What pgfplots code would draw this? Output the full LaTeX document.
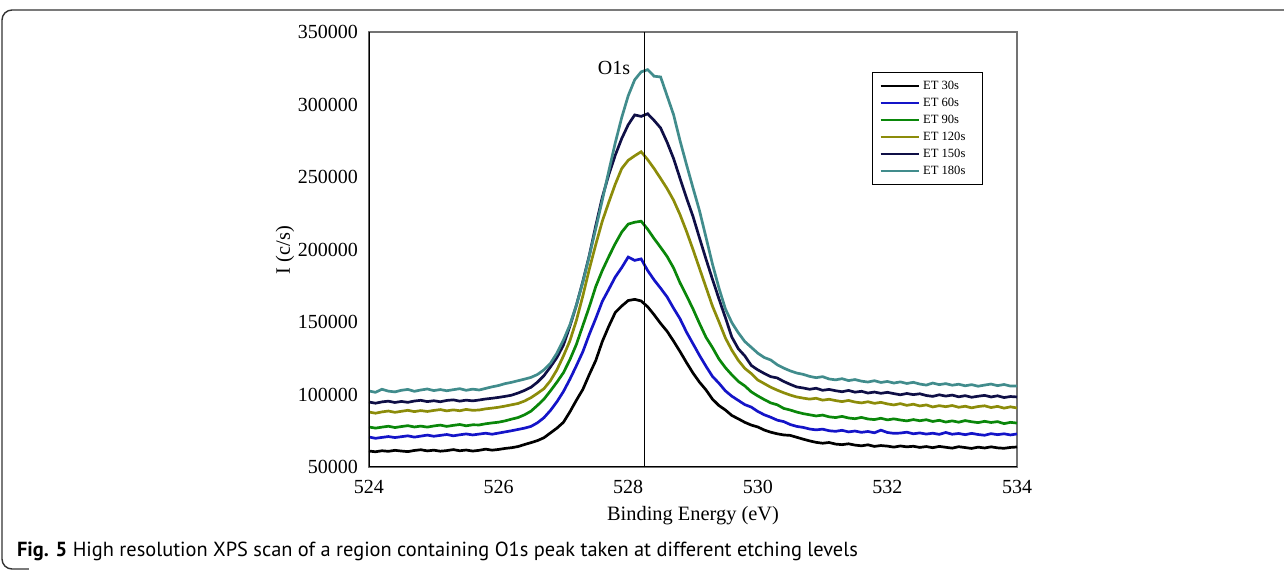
\documentclass[border=0pt]{standalone}
\usepackage{fontspec}
\setmainfont{Liberation Serif}
\newfontfamily\capfont{PT Sans}
\usepackage{pgfplots}
\usepackage{pgfplotstable}
\pgfplotsset{compat=1.18}

\definecolor{c30}{RGB}{0,0,0}
\definecolor{c60}{RGB}{20,20,200}
\definecolor{c90}{RGB}{10,135,10}
\definecolor{c120}{RGB}{140,140,10}
\definecolor{c150}{RGB}{15,15,70}
\definecolor{c180}{RGB}{65,140,140}

% x, ET30, ET60, ET90, ET120, ET150, ET180
\pgfplotstableread{
x a b c d e f
524.0 61000 70700 77600 87900 94800 102400
524.1 60500 69800 76800 87100 94000 101500
524.2 61200 70400 77500 88000 94900 103600
524.3 60800 71000 78100 88600 95400 102300
524.4 61500 70300 77200 87700 94500 101800
524.5 61000 70900 77900 88400 95200 102900
524.6 60600 71500 78500 89100 94600 103500
524.7 61400 70600 77600 88200 95500 102200
524.8 61900 71300 78200 88900 96000 103100
524.9 61100 72000 77500 88300 95100 103800
525.0 61600 71200 78300 89000 95700 102700
525.1 60900 71800 78900 89600 95000 103400
525.2 61300 72400 78000 88700 95900 102600
525.3 62000 71500 78700 89400 96300 103300
525.4 61200 72200 79300 88800 95400 104000
525.5 61700 72800 78400 89700 96100 102900
525.6 61000 72100 79100 89100 95600 103700
525.7 61500 72700 79000 89300 96200 103100
525.8 62300 73300 79800 90100 96900 104200
525.9 61600 72600 80400 90600 97400 105300
526.0 62100 73400 80900 91200 98000 106200
526.1 62800 74200 81800 92000 98700 107500
526.2 63300 75000 83000 92900 99500 108400
526.3 64100 75900 84100 93800 101000 109500
526.4 65500 76800 86000 95500 102800 110600
526.5 66800 78000 88500 97800 105000 111800
526.6 68200 80500 92500 100800 108500 113800
526.7 70200 84000 96800 104000 113000 117000
526.8 73500 89000 102500 109500 119000 121500
526.9 76800 95000 108500 117000 125500 128500
527.0 80800 102000 115000 126500 134000 137500
527.1 88000 110500 124000 137000 147000 148000
527.2 96000 119800 134500 151000 161500 161500
527.3 103500 129500 147500 168000 178000 177500
527.4 113800 141500 160500 186500 196000 195500
527.5 123500 152500 174500 203500 216500 214500
527.6 136500 164200 185500 219500 236000 234000
527.7 147000 172500 195000 232500 251500 254000
527.8 156500 181000 204000 245000 265000 273500
527.9 161000 187500 212000 255800 276500 291000
528.0 164800 194800 217500 261500 286000 306000
528.1 165600 192500 218800 264600 292800 317000
528.2 164500 193500 219500 267400 291800 322500
528.3 160500 185500 214000 262000 293600 324000
528.4 155000 179000 207500 255800 289000 319500
528.5 149000 173300 201500 249000 283800 319000
528.6 143600 167300 195200 242000 274000 306000
528.7 136800 159500 187300 234000 262800 293000
528.8 129600 152200 177000 224000 249000 275000
528.9 122000 143000 168200 212500 235500 258500
529.0 114800 135000 159000 200000 222800 242500
529.1 108500 127000 149000 187000 208000 226800
529.2 103200 119500 139500 174000 193500 208500
529.3 96800 112500 132400 161000 179500 190000
529.4 92400 107800 124500 150200 166000 173500
529.5 89300 102500 118500 139000 153000 159000
529.6 85500 98800 113500 130500 139500 149500
529.7 83200 95900 109000 123500 131500 142500
529.8 80800 93000 105900 118000 126600 136500
529.9 78900 91300 101800 114400 120000 132500
530.0 77600 88300 99000 110000 117000 128500
530.1 75500 86000 96500 107500 114500 125500
530.2 74000 84300 94200 105000 112300 123800
530.3 72900 82300 92900 103000 111400 120500
530.4 72100 81300 90400 101200 109000 118200
530.5 71800 79300 89300 99600 107000 116300
530.6 70500 78000 87900 98300 105200 114800
530.7 69200 77300 86800 97500 104500 113900
530.8 68000 76200 86000 96800 103600 112500
530.9 67000 75600 85200 97400 104300 111600
531.0 66400 76100 85800 96100 102900 112300
531.1 66900 75000 84600 96700 103500 110700
531.2 65800 74600 84100 95800 102600 110100
531.3 65400 75300 84900 95100 101900 110900
531.4 66000 74200 83800 95900 102800 109600
531.5 65100 74800 83300 94800 101600 110300
531.6 64600 73900 84200 94200 102200 109200
531.7 65300 74500 83100 95000 101000 108600
531.8 64200 73600 82700 93900 101700 109500
531.9 64800 75400 83600 94600 100800 108300
532.0 64400 73800 82500 93500 101500 109000
532.1 63700 73200 83200 92800 100600 107900
532.2 64500 73400 82400 93700 99800 108700
532.3 63900 74000 81800 92500 100700 107600
532.4 64300 72900 82700 93300 99900 108400
532.5 63500 73500 81900 92100 100500 107200
532.6 64100 72700 82600 92800 99300 106500
532.7 63300 73300 81400 91400 98700 107900
532.8 64200 72500 82200 92300 99800 106800
532.9 63600 73800 81000 91600 98900 107500
533.0 63000 72600 81800 92400 99600 106400
533.1 64000 73100 80900 91200 98400 107100
533.2 63400 72300 82000 91900 99200 106000
533.3 62800 73200 81200 90800 98100 106800
533.4 63700 72400 80600 91700 98800 105700
533.5 63100 71900 81500 92200 99400 106500
533.6 63900 73000 80700 91000 98300 107200
533.7 63200 72300 81300 91800 99100 106100
533.8 62900 72900 79900 90600 97900 106900
533.9 63500 72100 80800 91500 98600 105800
534.0 63800 72800 80300 90700 98300 105900
}\xps

\begin{document}
\begin{tikzpicture}
% page = 1284 x 571 px at 0.5pt/px, axis SW corner at origin
\useasboundingbox (-184.5pt,-52pt) rectangle (457.5pt,233.5pt);
\draw[black!80, line width=0.7pt] (457.5pt,228.5pt) -- (-178.5pt,228.5pt)
  arc[start angle=90, end angle=180, radius=5pt] -- (-183.5pt,-46pt)
  arc[start angle=180, end angle=270, radius=5pt] -- (-170pt,-51pt);

\begin{axis}[
  scale only axis,
  width=324pt, height=217.5pt,
  xmin=524, xmax=534, ymin=50000, ymax=350000,
  xtick={524,526,528,530,532,534},
  xticklabels={524,526,528,530,532,534},
  ytick={50000,100000,150000,200000,250000,300000,350000},
  yticklabels={50000,100000,150000,200000,250000,300000,350000},
  scaled x ticks=false, scaled y ticks=false,
  major tick length=0pt,
  tick label style={font=\rmfamily\fontsize{10}{12}\selectfont},
  xticklabel style={yshift=-3pt},
  yticklabel style={xshift=-2pt},
  axis line style={draw=black!55, line width=0.8pt},
  legend style={at={(0.776,0.908)}, anchor=north west, draw=black, line width=0.5pt,
    font=\fontsize{6.3}{7}\selectfont, inner xsep=3.5pt, inner ysep=2.5pt,
    row sep=0pt, nodes={text height=4.5pt, text depth=1pt, inner sep=1.5pt}},
  legend cell align=left,
  legend image code/.code={\draw[#1] (0pt,0pt) -- (19pt,0pt);},
  every axis plot/.append style={line width=1.35pt},
]
\addplot[c30]  table[x=x,y=a] {\xps};
\addplot[c60]  table[x=x,y=b] {\xps};
\addplot[c90]  table[x=x,y=c] {\xps};
\addplot[c120] table[x=x,y=d] {\xps};
\addplot[c150] table[x=x,y=e] {\xps};
\addplot[c180] table[x=x,y=f] {\xps};
\legend{ET 30s, ET 60s, ET 90s, ET 120s, ET 150s, ET 180s\hspace*{3.5pt}}
\draw[black, line width=0.8pt] (axis cs:528.25,50000) -- (axis cs:528.25,350000);
\node[font=\fontsize{10}{12}\selectfont] at (axis cs:527.78,325500) {O1s};
\draw[black, line width=1.4pt] (rel axis cs:0,1) -- (rel axis cs:0,0) -- (rel axis cs:1,0);
\end{axis}

\node[font=\fontsize{10.2}{12}\selectfont] at (162pt,-24.5pt) {Binding Energy (eV)};
\node[font=\fontsize{10.2}{12}\selectfont, rotate=90] at (-42pt,108.5pt) {I (c/s)};
\node[anchor=base west, font=\capfont\fontsize{10.2}{12}\selectfont] at (-179.5pt,-45pt)
  {\textbf{Fig. 5} High resolution XPS scan of a region containing O1s peak taken at different etching levels};
\end{tikzpicture}
\end{document}
